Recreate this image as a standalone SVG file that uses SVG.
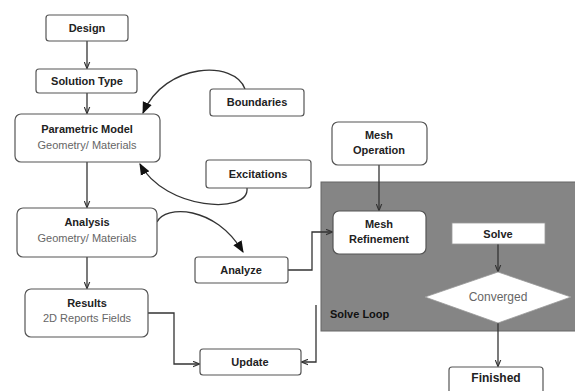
<svg xmlns="http://www.w3.org/2000/svg" width="575" height="391" viewBox="0 0 575 391">
<defs>
<style>
.box{fill:#fff;stroke:#555;stroke-width:1.2}
.t{font-family:"Liberation Sans",Arial,sans-serif;font-size:11px;font-weight:bold;fill:#222;text-anchor:middle}
.s{font-family:"Liberation Sans",Arial,sans-serif;font-size:11px;fill:#666;text-anchor:middle}
.c{fill:none;stroke:#333;stroke-width:1.3}
</style>
<marker id="a" viewBox="0 0 10 10" refX="9" refY="5" markerWidth="7" markerHeight="7" orient="auto" markerUnits="userSpaceOnUse">
<path d="M0,1 L10,5 L0,9" fill="none" stroke="#333" stroke-width="1.6"/>
</marker>
<marker id="f" viewBox="0 0 10 10" refX="9" refY="5" markerWidth="12" markerHeight="12" orient="auto" markerUnits="userSpaceOnUse">
<path d="M0,1 L10,5 L0,9 z" fill="#111"/>
</marker>
</defs>
<rect width="575" height="391" fill="#fff"/>
<g id="solve-loop">
<rect x="321" y="182" width="256" height="149" fill="#858585" stroke="#666" stroke-width="1"/>
<text x="330" y="318" class="t" style="text-anchor:start;fill:#111">Solve Loop</text>
</g>
<g id="connectors">
<line class="c" x1="87" y1="41" x2="87" y2="68" marker-end="url(#a)"/>
<line class="c" x1="87" y1="93" x2="87" y2="113" marker-end="url(#a)"/>
<line class="c" x1="87" y1="162" x2="87" y2="207" marker-end="url(#a)"/>
<line class="c" x1="87" y1="257" x2="87" y2="288" marker-end="url(#a)"/>
<path class="c" d="M245,89 C235,60 165,62 143,113" marker-end="url(#f)"/>
<path class="c" d="M247,188 C250,215 165,210 140,164" marker-end="url(#f)"/>
<path class="c" d="M157,222 C165,205 215,205 243,252" marker-end="url(#f)"/>
<path class="c" d="M288,270 H312 V232 H332" marker-end="url(#a)"/>
<path class="c" d="M148,313 H174 V364 H199" marker-end="url(#a)"/>
<path class="c" d="M316,305 V362 H302" marker-end="url(#a)"/>
<line class="c" x1="379" y1="165" x2="379" y2="210" marker-end="url(#a)"/>
<line class="c" x1="498" y1="244" x2="498" y2="271" marker-end="url(#a)"/>
<line class="c" x1="498" y1="323" x2="498" y2="366" marker-end="url(#a)"/>
</g>
<g id="design"><rect class="box" x="46" y="15" width="82" height="26" rx="3"/><text class="t" x="87" y="32">Design</text></g>
<g id="solution-type"><rect class="box" x="36" y="69" width="101" height="24" rx="3"/><text class="t" x="87" y="85">Solution Type</text></g>
<g id="parametric-model"><rect class="box" x="15" y="114" width="145" height="48" rx="6"/><text class="t" x="87" y="133">Parametric Model</text><text class="s" x="87" y="149">Geometry/ Materials</text></g>
<g id="boundaries"><rect class="box" x="210" y="89" width="94" height="27" rx="3"/><text class="t" x="257" y="106">Boundaries</text></g>
<g id="excitations"><rect class="box" x="206" y="160" width="105" height="28" rx="3"/><text class="t" x="258" y="178">Excitations</text></g>
<g id="analysis"><rect class="box" x="17" y="208" width="140" height="49" rx="6"/><text class="t" x="87" y="226">Analysis</text><text class="s" x="87" y="242">Geometry/ Materials</text></g>
<g id="results"><rect class="box" x="25" y="289" width="123" height="48" rx="6"/><text class="t" x="87" y="307">Results</text><text class="s" x="87" y="322">2D Reports Fields</text></g>
<g id="analyze"><rect class="box" x="195" y="257" width="93" height="26" rx="3"/><text class="t" x="241" y="274">Analyze</text></g>
<g id="update"><rect class="box" x="200" y="349" width="101" height="26" rx="3"/><text class="t" x="250" y="366">Update</text></g>
<g id="mesh-operation"><rect class="box" x="332" y="122" width="95" height="43" rx="6"/><text class="t" x="379" y="139">Mesh</text><text class="t" x="379" y="154">Operation</text></g>
<g id="mesh-refinement"><rect class="box" x="333" y="211" width="93" height="43" rx="6"/><text class="t" x="379" y="228">Mesh</text><text class="t" x="379" y="243">Refinement</text></g>
<g id="solve"><rect x="452" y="223" width="93" height="21" fill="#fff" stroke="#999" stroke-width="0.8"/><text class="t" x="498" y="238">Solve</text></g>
<g id="converged"><polygon points="498,272 571,297 498,323 425,297" fill="#fff" stroke="#999" stroke-width="0.8"/><text class="s" x="498" y="301" style="font-size:12px">Converged</text></g>
<g id="finished"><rect class="box" x="449" y="367" width="94" height="30" rx="3"/><text class="t" x="496" y="382" style="font-size:12px">Finished</text></g>
</svg>
